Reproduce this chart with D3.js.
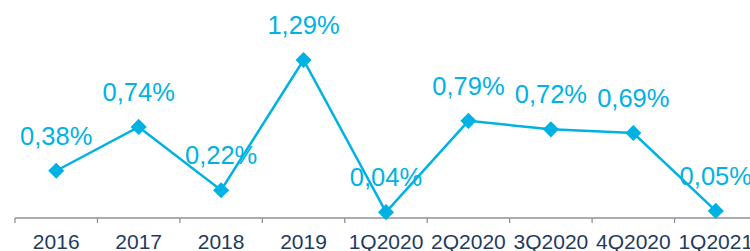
<!DOCTYPE html>
<html>
<head>
<meta charset="utf-8">
<script src="https://cdn.jsdelivr.net/npm/d3@7"></script>
<style>
  body { margin: 0; background: #fff; }
  svg { display: block; font-family: "Liberation Sans", Arial, sans-serif; }
</style>
</head>
<body>
<svg></svg>
<script>
let categories = ['2016', '2017', '2018', '2019', '1Q2020', '2Q2020', '3Q2020', '4Q2020', '1Q2021']
let values = [0.38, 0.74, 0.22, 1.29, 0.04, 0.79, 0.72, 0.69, 0.05]
let valueLabels = ['0,38%', '0,74%', '0,22%', '1,29%', '0,04%', '0,79%', '0,72%', '0,69%', '0,05%']

let data = categories.map((c, i) => ({ cat: c, value: values[i], label: valueLabels[i] }))

let width = 750
let height = 251
let lineColor = '#00b2e3'

let svg = d3.select('svg')
  .attr('width', width)
  .attr('height', height)

let xScale = d3.scaleBand()
  .domain(categories)
  .range([15, 757])
  .padding(0)

let yScale = d3.scaleLinear()
  .domain([0, 1.4])
  .range([217, 46.6])

let cx = (d) => xScale(d.cat) + xScale.bandwidth() / 2

// x axis, ticks sit between categories
let axisY = 218
let axisG = svg.append('g').attr('id', 'x-axis')
axisG.append('line')
  .attr('x1', xScale.range()[0]).attr('x2', xScale.range()[1])
  .attr('y1', axisY).attr('y2', axisY)
  .attr('stroke', '#8e939a').attr('stroke-width', 1.3)

let boundaries = categories.map((c) => xScale(c)).concat([xScale.range()[1]])
axisG.selectAll('line.tick')
  .data(boundaries)
  .enter()
  .append('line')
  .attr('class', 'tick')
  .attr('x1', (d) => d).attr('x2', (d) => d)
  .attr('y1', axisY).attr('y2', axisY + 5)
  .attr('stroke', '#8e939a').attr('stroke-width', 1.3)

axisG.selectAll('text')
  .data(categories)
  .enter()
  .append('text')
  .attr('x', (d) => xScale(d) + xScale.bandwidth() / 2)
  .attr('y', 248.5)
  .attr('text-anchor', 'middle')
  .attr('font-size', 21)
  .attr('fill', '#1f3a5f')
  .text((d) => d)

// line
let line = d3.line()
  .x(cx)
  .y((d) => yScale(d.value))

svg.append('path')
  .datum(data)
  .attr('d', line)
  .attr('fill', 'none')
  .attr('stroke', lineColor)
  .attr('stroke-width', 2.5)

// diamond markers
svg.selectAll('path.marker')
  .data(data)
  .enter()
  .append('path')
  .attr('class', 'marker')
  .attr('d', d3.symbol().type(d3.symbolSquare).size(130))
  .attr('transform', (d) => 'translate(' + cx(d) + ',' + yScale(d.value) + ') rotate(45)')
  .attr('fill', lineColor)

// value labels
svg.selectAll('text.label')
  .data(data)
  .enter()
  .append('text')
  .attr('class', 'label')
  .attr('x', cx)
  .attr('y', (d) => yScale(d.value) - 26)
  .attr('text-anchor', 'middle')
  .attr('font-size', 25.5)
  .attr('fill', lineColor)
  .text((d) => d.label)
</script>
</body>
</html>
